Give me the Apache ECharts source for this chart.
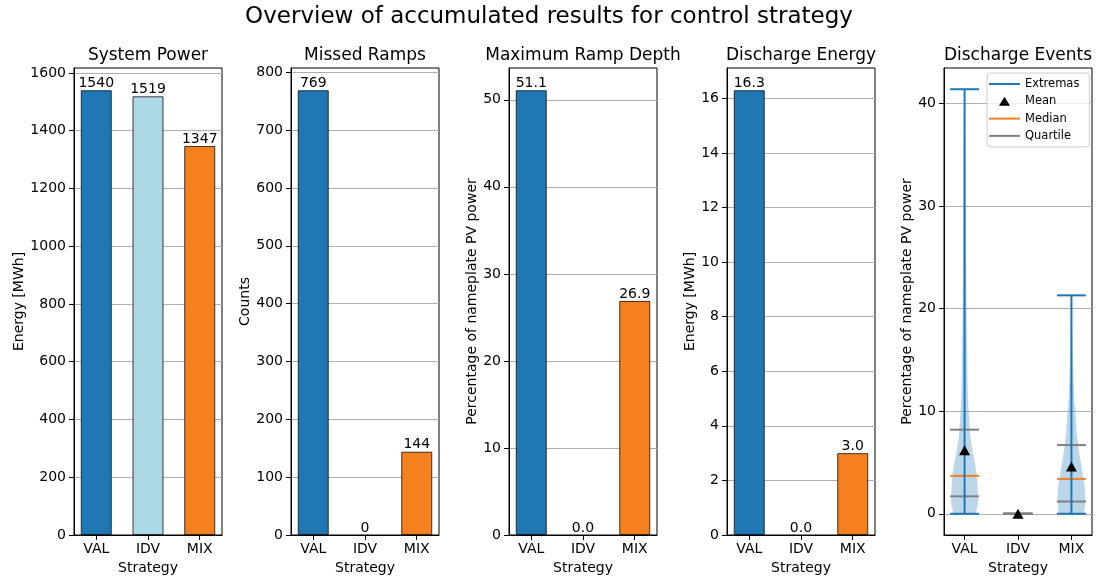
<!DOCTYPE html>
<html>
<head>
<meta charset="utf-8">
<title>Overview of accumulated results for control strategy</title>
<script src="https://cdn.jsdelivr.net/npm/echarts@6/dist/echarts.min.js"></script>
<style>
  html, body { margin: 0; padding: 0; background: #ffffff; }
  #chart { width: 1097px; height: 581px; }
</style>
</head>
<body>
<div id="chart"></div>
<script>
// ---- data -------------------------------------------------------------
const strategies = ['VAL', 'IDV', 'MIX'];
const strategyPos = [0, 1, 2];

const systemPower = [1540, 1519, 1347];      // MWh
const missedRamps = [769, 0, 144];           // counts
const maxRampDepth = [51.1, 0.0, 26.9];      // % of nameplate PV power
const dischargeEnergy = [16.3, 0.0, 3.0];    // MWh

const systemPowerTicks = [0, 200, 400, 600, 800, 1000, 1200, 1400, 1600];
const missedRampsTicks = [0, 100, 200, 300, 400, 500, 600, 700, 800];
const rampDepthTicks = [0, 10, 20, 30, 40, 50];
const dischargeEnergyTicks = [0, 2, 4, 6, 8, 10, 12, 14, 16];
const eventTicks = [0, 10, 20, 30, 40];

// discharge event statistics per strategy (% of nameplate PV power)
const eventMin = [0, 0, 0];
const eventMax = [41.4, 0, 21.3];
const eventMean = [6.2, 0, 4.6];
const eventMedian = [3.7, 0, 3.4];
const eventQ1 = [1.7, 0, 1.2];
const eventQ3 = [8.2, 0, 6.7];

// violin outlines: levels and density half-widths (x-axis units)
const valLevels = [0, 1, 2, 3, 4, 5, 6, 7, 8, 9, 10, 11.4, 12.7, 15, 18, 22, 28, 35, 41.4];
const valHalfWidth = [0.21, 0.25, 0.25, 0.24, 0.22, 0.19, 0.15, 0.12, 0.10, 0.088, 0.075, 0.062, 0.056, 0.049, 0.041, 0.034, 0.026, 0.019, 0.009];
const idvLevels = [0];
const idvHalfWidth = [0];
const mixLevels = [0, 1.3, 2.6, 3.9, 5.2, 6.5, 7.8, 9.5, 11.1, 12.7, 14.4, 16, 18, 21.3];
const mixHalfWidth = [0.24, 0.26, 0.25, 0.21, 0.17, 0.13, 0.10, 0.079, 0.056, 0.041, 0.030, 0.021, 0.015, 0.008];

// ---- styling ------------------------------------------------------------
const FONT = 'DejaVu Sans';
const BLUE = '#1f77b4';
const ORANGE = '#f58020';
const barColors = [BLUE, '#add8e6', ORANGE];
const GREY = '#808080';

const panelLeft = [74, 291, 509, 727, 944];
const panelTop = 68, panelW = 148, panelH = 467;
const capHalf = 0.27;

const barPanels = [
  { title: 'System Power', values: systemPower, ticks: systemPowerTicks, yName: 'Energy [MWh]', nameGap: 44, digits: 0 },
  { title: 'Missed Ramps', values: missedRamps, ticks: missedRampsTicks, yName: 'Counts', nameGap: 39, digits: 0 },
  { title: 'Maximum Ramp Depth', values: maxRampDepth, ticks: rampDepthTicks, yName: 'Percentage of nameplate PV power', nameGap: 30, digits: 1 },
  { title: 'Discharge Energy', values: dischargeEnergy, ticks: dischargeEnergyTicks, yName: 'Energy [MWh]', nameGap: 30, digits: 1 }
];

const txt = (size) => ({ fontSize: size, color: '#000', fontFamily: FONT, fontWeight: 'normal' });

function xAxisFor(i, min, max) {
  return {
    gridIndex: i, type: 'value', min: min, max: max,
    axisLine: { show: true, onZero: false, lineStyle: { color: '#000', width: 1 } },
    axisTick: { show: true, customValues: strategyPos, length: 5, lineStyle: { color: '#000', width: 1 } },
    axisLabel: { customValues: strategyPos, formatter: v => strategies[Math.round(v)], margin: 7, ...txt(14) },
    splitLine: { show: false },
    name: 'Strategy', nameLocation: 'middle', nameGap: 26, nameTextStyle: txt(14)
  };
}

function yAxisFor(i, min, max, ticks, name, gap) {
  return {
    gridIndex: i, type: 'value', min: min, max: max,
    axisLine: { show: true, onZero: false, lineStyle: { color: '#000', width: 1 } },
    axisTick: { show: true, customValues: ticks, length: 5, lineStyle: { color: '#000', width: 1 } },
    axisLabel: { customValues: ticks, formatter: v => String(v), margin: 8, ...txt(14) },
    splitLine: { show: true, lineStyle: { color: '#b0b0b0', width: 1 } },
    name: name, nameLocation: 'middle', nameRotate: 90, nameGap: gap, nameTextStyle: txt(14)
  };
}

const grids = [], xAxes = [], yAxes = [], series = [];
const titles = [{
  text: 'Overview of accumulated results for control strategy',
  left: 549, top: 6, padding: 0, textAlign: 'center', textStyle: txt(23)
}];

panelLeft.forEach((left, i) => {
  grids.push({
    left: left, top: panelTop, width: panelW, height: panelH,
    containLabel: false, outerBoundsMode: 'none',
    show: true, borderColor: '#000', borderWidth: 1, backgroundColor: 'transparent'
  });
});

const subTitle = (text, i) => ({
  text: text, left: panelLeft[i] + panelW / 2, top: 47, padding: 0, textAlign: 'center', textStyle: txt(17)
});

barPanels.forEach((p, i) => {
  titles.push(subTitle(p.title, i));
  xAxes.push(xAxisFor(i, -0.43, 2.43));
  yAxes.push(yAxisFor(i, 0, Math.max(...p.values) * 1.05, p.ticks, p.yName, p.nameGap));
  series.push({
    type: 'bar', xAxisIndex: i, yAxisIndex: i, barWidth: 31,
    data: p.values.map((v, k) => ({
      value: [strategyPos[k], v],
      itemStyle: { color: barColors[k], borderColor: 'rgba(0,0,0,0.75)', borderWidth: v === 0 ? 0 : 1 }
    })),
    label: {
      show: true, position: 'top', distance: 0, ...txt(14),
      formatter: prm => prm.value[1].toFixed(p.digits)
    },
    emphasis: { disabled: true }
  });
});

// ---- violin panel -------------------------------------------------------
const vi = 4;
const evLo = Math.min(...eventMin), evHi = Math.max(...eventMax);
const evPad = (evHi - evLo) * 0.05;
titles.push(subTitle('Discharge Events', vi));
xAxes.push(xAxisFor(vi, -0.385, 2.385));
yAxes.push(yAxisFor(vi, evLo - evPad, evHi + evPad, eventTicks, 'Percentage of nameplate PV power', 30));

const profiles = [
  { levels: valLevels, hw: valHalfWidth },
  { levels: idvLevels, hw: idvHalfWidth },
  { levels: mixLevels, hw: mixHalfWidth }
];

// density bodies
series.push({
  type: 'custom', name: 'body', xAxisIndex: vi, yAxisIndex: vi, z: 2, silent: true,
  data: strategyPos.map(p => [p, 0]),
  encode: { x: 0, y: 1 },
  renderItem: (params, api) => {
    const k = params.dataIndex;
    const pr = profiles[k];
    if (pr.levels.length < 2) return { type: 'group', children: [] };
    const pos = strategyPos[k];
    const pts = [];
    pr.levels.forEach((y, j) => pts.push(api.coord([pos + pr.hw[j], y])));
    for (let j = pr.levels.length - 1; j >= 0; j--) pts.push(api.coord([pos - pr.hw[j], pr.levels[j]]));
    return { type: 'polygon', shape: { points: pts }, style: { fill: 'rgba(31,119,180,0.3)', stroke: null } };
  }
});

// horizontal stat lines (caps, medians, quartiles)
function hLineSeries(name, color, z, valueSets) {
  return {
    type: 'custom', name: name, xAxisIndex: vi, yAxisIndex: vi, z: z, silent: true,
    itemStyle: { color: color },
    data: strategyPos.map(p => [p, 0]),
    encode: { x: 0, y: 1 },
    renderItem: (params, api) => {
      const k = params.dataIndex;
      const pos = strategyPos[k];
      return {
        type: 'group',
        children: valueSets.map(vals => {
          const a = api.coord([pos - capHalf, vals[k]]);
          const b = api.coord([pos + capHalf, vals[k]]);
          return { type: 'line', shape: { x1: a[0], y1: a[1], x2: b[0], y2: b[1] }, style: { stroke: color, lineWidth: 2 } };
        })
      };
    }
  };
}
series.push(hLineSeries('Extremas', BLUE, 3, [eventMin, eventMax]));
series.push(hLineSeries('Median', ORANGE, 4, [eventMedian]));
series.push(hLineSeries('Quartile', GREY, 5, [eventQ1, eventQ3]));

// vertical extrema bars
series.push({
  type: 'custom', name: 'Extremas', xAxisIndex: vi, yAxisIndex: vi, z: 6, silent: true,
  itemStyle: { color: BLUE },
  data: strategyPos.map(p => [p, 0]),
  encode: { x: 0, y: 1 },
  renderItem: (params, api) => {
    const k = params.dataIndex;
    const a = api.coord([strategyPos[k], eventMin[k]]);
    const b = api.coord([strategyPos[k], eventMax[k]]);
    return { type: 'line', shape: { x1: a[0], y1: a[1], x2: b[0], y2: b[1] }, style: { stroke: BLUE, lineWidth: 2 } };
  }
});

// means
series.push({
  type: 'scatter', name: 'Mean', xAxisIndex: vi, yAxisIndex: vi, z: 7, silent: true,
  symbol: 'triangle', symbolSize: [11, 10],
  itemStyle: { color: '#000', opacity: 1 },
  data: strategyPos.map((p, k) => [p, eventMean[k]])
});

const lineIcon = 'path://M0,0L0,0M0,4L31,4L31,6L0,6ZM31,10L31,10';
const triIcon = 'path://M0,0L0,0M15.5,0.5L21,9.5L10,9.5ZM31,10L31,10';

const option = {
  animation: false,
  backgroundColor: '#ffffff',
  textStyle: { fontFamily: FONT },
  title: titles,
  grid: grids,
  xAxis: xAxes,
  yAxis: yAxes,
  legend: {
    left: 987, top: 73, orient: 'vertical',
    itemWidth: 31, itemHeight: 10, itemGap: 3.3,
    padding: [4, 10, 4, 2],
    backgroundColor: 'rgba(255,255,255,0.8)',
    borderColor: '#cccccc', borderWidth: 1, borderRadius: 3,
    selectedMode: false,
    itemStyle: { borderWidth: 0 },
    textStyle: { fontSize: 11.5, lineHeight: 14, color: '#000', fontFamily: FONT },
    data: [
      { name: 'Extremas', icon: lineIcon },
      { name: 'Mean', icon: triIcon },
      { name: 'Median', icon: lineIcon },
      { name: 'Quartile', icon: lineIcon }
    ]
  },
  series: series
};

const chart = echarts.init(document.getElementById('chart'), null, { renderer: 'canvas' });
chart.setOption(option);
</script>
</body>
</html>
